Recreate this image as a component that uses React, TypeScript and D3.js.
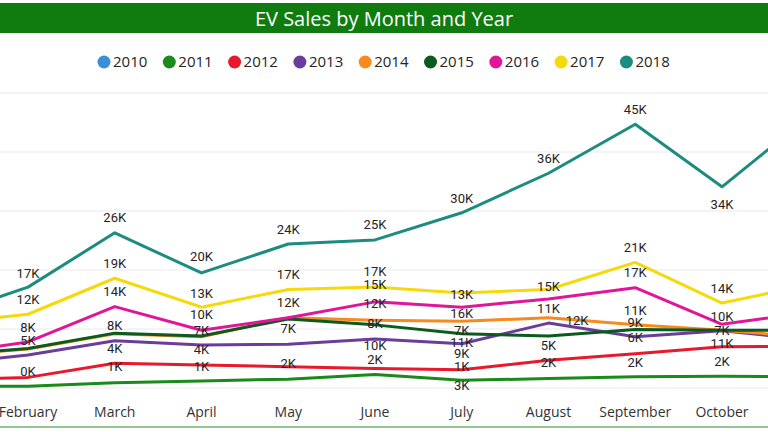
import { useEffect, useRef } from 'react';
import * as d3 from 'd3';

// Months on the x axis (the view is scrolled: January and November sit just off the edges)
const months = [
  'January', 'February', 'March', 'April', 'May', 'June',
  'July', 'August', 'September', 'October', 'November', 'December',
];

const years = ['2010', '2011', '2012', '2013', '2014', '2015', '2016', '2017', '2018'];
const colors = ['#3a8fd6', '#1a8a1a', '#e8192c', '#6a3d9a', '#f58b1f', '#0b5a1e', '#e0169a', '#f5d90a', '#1b8c7e'];

// Monthly EV sales in thousands, January..November
const sales2010: number[] = [];
const sales2011 = [0.3, 0.3, 0.9, 1.2, 1.5, 2.3, 1.3, 1.6, 1.9, 2.0, 1.9];
const sales2012 = [1.3, 1.8, 4.2, 3.9, 3.6, 3.3, 3.1, 4.7, 5.8, 7.0, 7.1];
const sales2013 = [4.0, 5.6, 8.0, 7.3, 7.4, 8.3, 7.5, 11.0, 8.7, 9.7, 8.2];
const sales2014 = [5.4, 6.6, 9.2, 8.7, 11.9, 11.5, 11.3, 11.9, 10.7, 9.8, 8.6];
const sales2015 = [5.5, 6.7, 9.3, 8.8, 11.7, 10.7, 9.2, 8.8, 9.9, 9.8, 9.8];
const sales2016 = [5.7, 7.8, 13.8, 9.8, 11.9, 14.6, 13.7, 15.1, 17.0, 10.8, 12.8];
const sales2017 = [10.9, 12.5, 18.6, 13.7, 16.7, 17.1, 16.1, 16.7, 21.3, 14.4, 17.5];
const sales2018 = [12.1, 17.1, 26.3, 19.5, 24.4, 25.1, 29.7, 36.4, 44.7, 34.1, 46.0];

const seriesValues = [sales2010, sales2011, sales2012, sales2013, sales2014, sales2015, sales2016, sales2017, sales2018];

const yTicks = [0, 10, 20, 30, 40, 50];

// Data labels as the chart prints them: [month index, text, level in K where the label sits]
const dataLabels: [number, string, number][] = [
  [1, '17K', 19.5], [1, '12K', 15.0], [1, '8K', 10.3], [1, '5K', 8.1], [1, '0K', 2.9],
  [2, '26K', 29.0], [2, '19K', 21.1], [2, '14K', 16.4], [2, '8K', 10.7], [2, '4K', 6.7], [2, '1K', 3.6],
  [3, '20K', 22.3], [3, '13K', 16.1], [3, '10K', 12.5], [3, '7K', 9.7], [3, '4K', 6.6], [3, '1K', 3.6],
  [4, '24K', 26.9], [4, '17K', 19.3], [4, '12K', 14.6], [4, '7K', 10.1], [4, '2K', 4.1],
  [5, '25K', 27.8], [5, '17K', 19.7], [5, '15K', 17.5], [5, '12K', 14.3], [5, '8K', 11.0], [5, '10K', 7.3], [5, '2K', 4.9],
  [6, '30K', 32.2], [6, '13K', 15.8], [6, '16K', 12.7], [6, '7K', 9.8], [6, '11K', 7.8], [6, '9K', 5.9], [6, '1K', 3.7], [6, '3K', 0.5],
  [7, '36K', 39.0], [7, '15K', 17.2], [7, '11K', 13.5], [7.33, '12K', 11.5], [7, '5K', 7.3], [7, '2K', 4.3],
  [8, '45K', 47.2], [8, '21K', 23.8], [8, '17K', 19.6], [8, '11K', 13.2], [8, '9K', 11.2], [8, '6K', 8.6], [8, '2K', 4.3],
  [9, '34K', 31.1], [9, '14K', 16.9], [9, '10K', 12.2], [9, '7K', 9.8], [9, '11K', 7.6], [9, '2K', 4.5],
];

const WIDTH = 768;
const HEIGHT = 432;

export default function App() {
  const svgRef = useRef<SVGSVGElement>(null);

  useEffect(() => {
    if (!svgRef.current) return;
    const svg = d3.select(svgRef.current);
    svg.selectAll('*').remove();

    const x = d3.scaleLinear().domain([1, 9]).range([28, 722]);
    const y = d3.scaleLinear().domain([0, 50]).range([388, 93]);

    svg.append('rect').attr('width', WIDTH).attr('height', HEIGHT).attr('fill', '#ffffff');

    // Gridlines
    svg.append('g')
      .selectAll('line')
      .data(yTicks)
      .enter()
      .append('line')
      .attr('x1', 0)
      .attr('x2', WIDTH)
      .attr('y1', d => y(d))
      .attr('y2', d => y(d))
      .attr('stroke', '#e9e9e9')
      .attr('stroke-width', 1);

    // Lines
    const line = d3.line<number>()
      .x((_d, i) => x(i))
      .y(d => y(d));

    svg.append('g')
      .selectAll('path')
      .data(seriesValues)
      .enter()
      .append('path')
      .attr('d', d => (d.length ? line(d) : null))
      .attr('fill', 'none')
      .attr('stroke', (_d, i) => colors[i])
      .attr('stroke-width', 3)
      .attr('stroke-linejoin', 'round');

    // Data labels
    svg.append('g')
      .selectAll('text')
      .data(dataLabels)
      .enter()
      .append('text')
      .attr('x', d => x(d[0]))
      .attr('y', d => y(d[2]))
      .attr('dy', '0.36em')
      .attr('text-anchor', 'middle')
      .style('font-family', 'Roboto, "DejaVu Sans", sans-serif')
      .style('font-size', '13px')
      .style('fill', '#252423')
      .text(d => d[1]);

    // Month axis labels
    svg.append('g')
      .selectAll('text')
      .data(months)
      .enter()
      .append('text')
      .attr('x', (_d, i) => x(i))
      .attr('y', 412)
      .attr('dy', '0.35em')
      .attr('text-anchor', 'middle')
      .style('font-family', '"Segoe UI", "Open Sans", sans-serif')
      .style('font-size', '14px')
      .style('fill', '#333333')
      .text(d => d);

    // Bottom rule
    svg.append('line')
      .attr('x1', 0)
      .attr('x2', WIDTH)
      .attr('y1', 427)
      .attr('y2', 427)
      .attr('stroke', '#6fb36f')
      .attr('stroke-width', 1.5);

    // Title bar
    svg.append('rect')
      .attr('x', 0)
      .attr('y', 3)
      .attr('width', WIDTH)
      .attr('height', 30)
      .attr('fill', '#107c10');

    svg.append('text')
      .attr('x', WIDTH / 2)
      .attr('y', 18.5)
      .attr('dy', '0.35em')
      .attr('text-anchor', 'middle')
      .style('font-family', '"Segoe UI", "Open Sans", sans-serif')
      .style('font-size', '20px')
      .style('fill', '#ffffff')
      .text('EV Sales by Month and Year');

    // Legend
    const legend = svg.append('g')
      .selectAll('g')
      .data(years)
      .enter()
      .append('g')
      .attr('transform', (_d, i) => `translate(${104 + i * 65.3},62)`);

    legend.append('circle')
      .attr('r', 6.5)
      .attr('fill', (_d, i) => colors[i]);

    legend.append('text')
      .attr('x', 9)
      .attr('dy', '0.35em')
      .style('font-family', '"Segoe UI", "Open Sans", sans-serif')
      .style('font-size', '15px')
      .style('fill', '#252423')
      .text(d => d);
  }, []);

  return (
    <>
      <style>{'body{margin:0;}'}</style>
      <svg ref={svgRef} width={WIDTH} height={HEIGHT} style={{ display: 'block' }} />
    </>
  );
}
